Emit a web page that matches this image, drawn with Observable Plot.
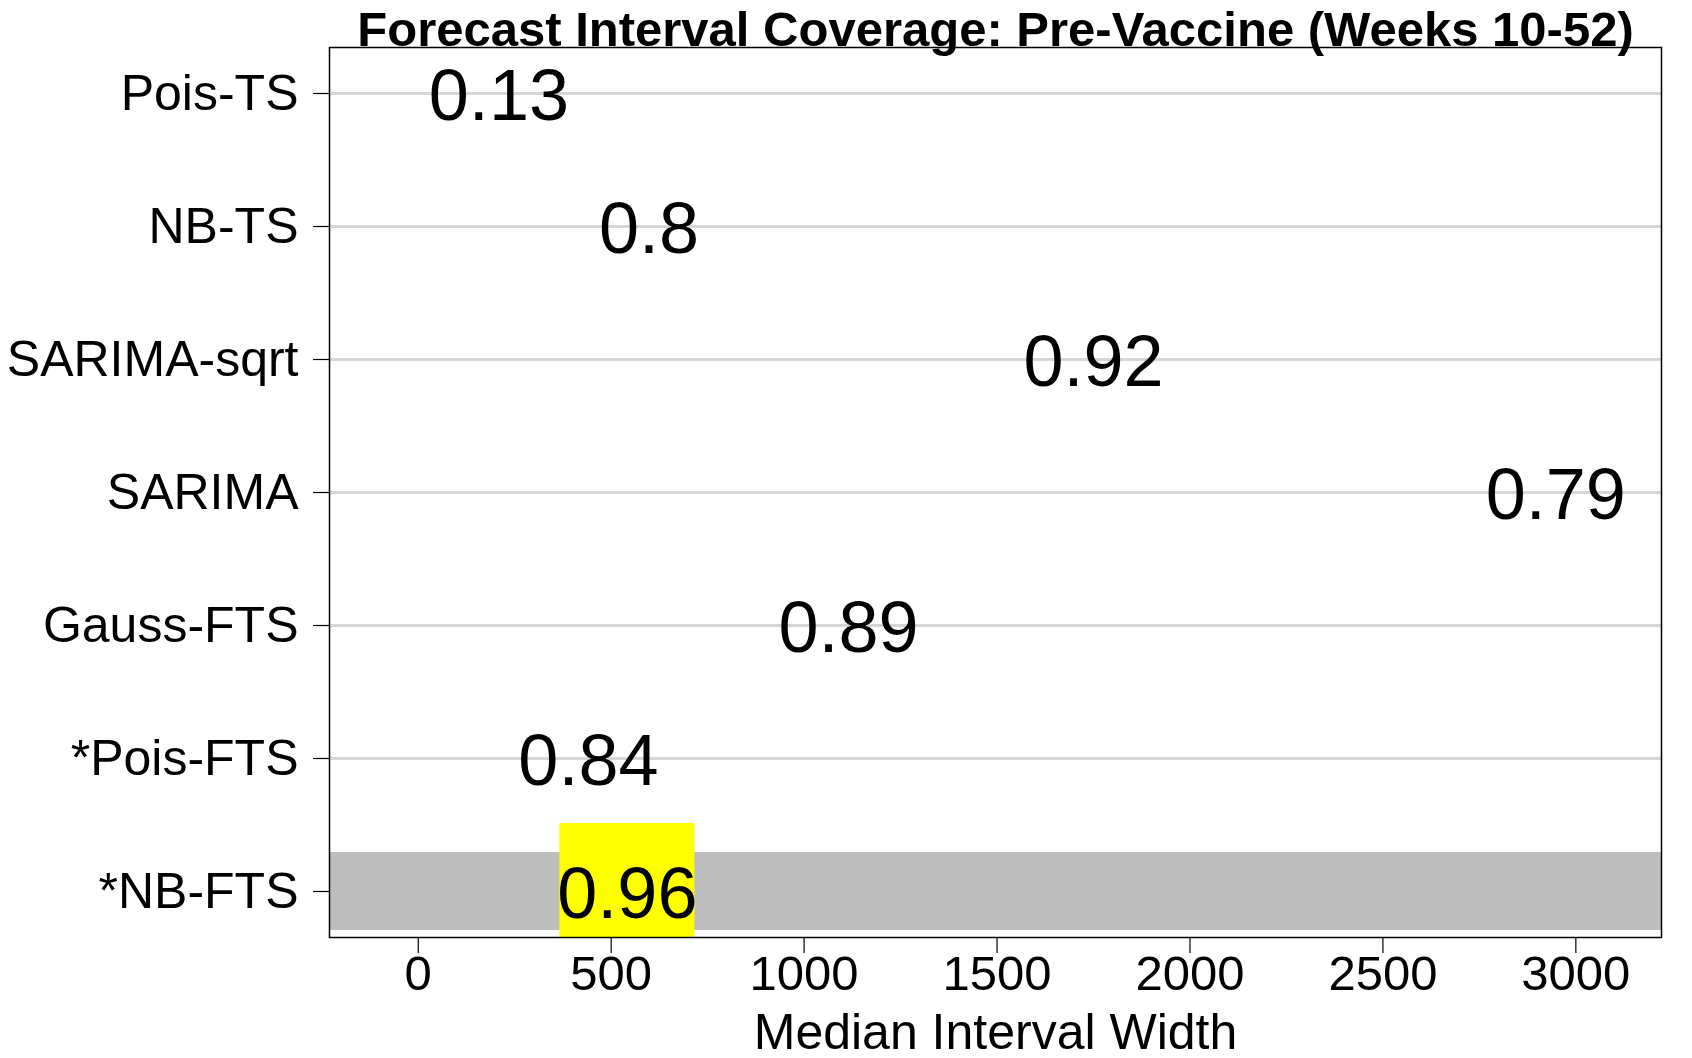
<!DOCTYPE html>
<html>
<head>
<meta charset="utf-8">
<script src="https://cdn.jsdelivr.net/npm/d3@7"></script>
<script src="https://cdn.jsdelivr.net/npm/@observablehq/plot@0.6"></script>
<style>
  html, body { margin: 0; padding: 0; background: #fff; }
  #chart svg { display: block; font-family: "Liberation Sans", Arial, Helvetica, sans-serif; }
</style>
</head>
<body>
<div id="chart"></div>
<script>
const models = ["Pois-TS", "NB-TS", "SARIMA-sqrt", "SARIMA", "Gauss-FTS", "*Pois-FTS", "*NB-FTS"];
const medianWidth = [209, 598, 1750, 2948, 1115, 441, 542];
const coverage = ["0.13", "0.8", "0.92", "0.79", "0.89", "0.84", "0.96"];
const best = "*NB-FTS";
const xTicks = [0, 500, 1000, 1500, 2000, 2500, 3000];
const xDomain = [-230, 3222];
const title = "Forecast Interval Coverage: Pre-Vaccine (Weeks 10-52)";
const xLabel = "Median Interval Width";

const data = models.map((m, i) => ({model: m, width: medianWidth[i], cov: coverage[i]}));
const bestRow = data.filter(d => d.model === best);

const chart = Plot.plot({
  width: 1692,
  height: 1058,
  marginLeft: 329,
  marginRight: 31,
  marginTop: 47,
  marginBottom: 121,
  style: {fontFamily: "Liberation Sans, Arial, sans-serif", background: "#fff", color: "#000"},
  x: {domain: xDomain, ticks: xTicks},
  y: {type: "band", domain: models, paddingInner: 0.41, paddingOuter: 0.045},
  marks: [
    Plot.gridY(models, {stroke: "#d6d6d6", strokeWidth: 3, strokeOpacity: 1}),
    Plot.barX(bestRow, {y: "model", x1: xDomain[0], x2: xDomain[1], fill: "#bebebe"}),
    Plot.barX(bestRow, {y: "model", x1: d => d.width - 175, x2: d => d.width + 175, fill: "#ffff00", insetTop: -29, insetBottom: -7}),
    Plot.text(data, {y: "model", x: "width", text: "cov", fontSize: 72, fill: "#000", dy: 3}),
    Plot.frame({stroke: "#000", strokeWidth: 1.5}),
    Plot.axisX({ticks: xTicks, tickFormat: d => String(d), tickSize: 16, tickPadding: 2, fontSize: 49, label: null, stroke: "#000", strokeWidth: 1.2}),
    Plot.axisY({tickSize: 16, tickPadding: 15, fontSize: 50, label: null, stroke: "#000", strokeWidth: 1.2}),
    Plot.text([title], {frameAnchor: "top", text: d => d, fontSize: 49, fontWeight: "bold", lineAnchor: "bottom", dy: -2, fill: "#000"}),
    Plot.text([xLabel], {frameAnchor: "bottom", text: d => d, fontSize: 50, lineAnchor: "bottom", dy: 111, fill: "#000"})
  ]
});
document.getElementById("chart").appendChild(chart);
</script>
</body>
</html>
